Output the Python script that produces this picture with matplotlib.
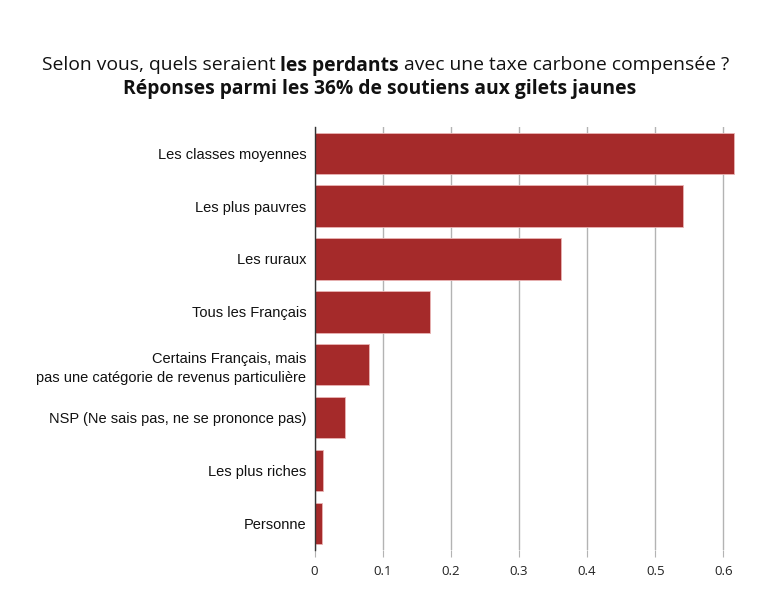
import matplotlib
matplotlib.use("Agg")
import matplotlib.pyplot as plt
from matplotlib.ticker import FuncFormatter

categories = [
    "Les classes moyennes",
    "Les plus pauvres",
    "Les ruraux",
    "Tous les Français",
    "Certains Français, mais\npas une catégorie de revenus particulière",
    "NSP (Ne sais pas, ne se prononce pas)",
    "Les plus riches",
    "Personne",
]
values = [0.616, 0.540, 0.362, 0.170, 0.080, 0.0446, 0.0123, 0.0113]
xticks = [0, 0.1, 0.2, 0.3, 0.4, 0.5, 0.6]

W, H = 771, 606
fig = plt.figure(figsize=(W / 100, H / 100), dpi=100)
ax = fig.add_axes([314.5 / W, 1 - 550 / H, (735 - 314.5) / W, (550 - 126.7) / H])

ypos = list(range(len(categories)))
ax.barh(ypos, values, height=0.78, color="#A52A2A", edgecolor="#e9b4b4", linewidth=0.6, zorder=3)
ax.set_ylim(len(categories) - 0.5, -0.5)
ax.set_xlim(0, 0.617)
ax.set_xticks(xticks)
ax.xaxis.set_major_formatter(FuncFormatter(lambda v, p: "0" if v == 0 else f"{v:g}"))
ax.grid(axis="x", color="#b3b3b3", linewidth=1.0, zorder=0)
ax.set_yticks(ypos)
ax.set_yticklabels(categories, fontfamily="Liberation Sans", fontsize=10.5, color="#111111",
                   linespacing=1.4)
for lab in ax.get_yticklabels():
    lab.set_y(lab.get_position()[1])
for lab in ax.get_xticklabels():
    lab.set_fontfamily("Open Sans")
    lab.set_fontsize(9.5)
    lab.set_color("#222222")
for s in ["top", "right", "bottom"]:
    ax.spines[s].set_visible(False)
ax.spines["left"].set_color("#333333")
ax.spines["left"].set_linewidth(1.0)
ax.spines["left"].set_zorder(5)
ax.tick_params(axis="y", length=0, pad=6)
ax.tick_params(axis="x", length=5, color="#b3b3b3", pad=6)

# Title with mixed weights
fig.canvas.draw()
r = fig.canvas.get_renderer()
parts = [("Selon vous, quels seraient ", "normal"), ("les perdants", "bold"),
         (" avec une taxe carbone compensée ?", "normal")]
fs = 13.9
ty = 1 - 65.5 / H
texts = []
for s, w in parts:
    t = fig.text(0, ty, s, fontfamily="Open Sans", fontweight=w, fontsize=fs,
                 va="center", ha="left", color="#111111")
    texts.append(t)
widths = [t.get_window_extent(r).width for t in texts]
total = sum(widths)
x0 = 385.5 - total / 2
for t, wd in zip(texts, widths):
    t.set_x(x0 / W)
    x0 += wd
fig.text(380 / W, 1 - 89 / H, "Réponses parmi les 36% de soutiens aux gilets jaunes",
         fontfamily="Open Sans", fontweight="bold", fontsize=fs, ha="center", va="center",
         color="#111111")

fig.savefig("out.png", dpi=100)
